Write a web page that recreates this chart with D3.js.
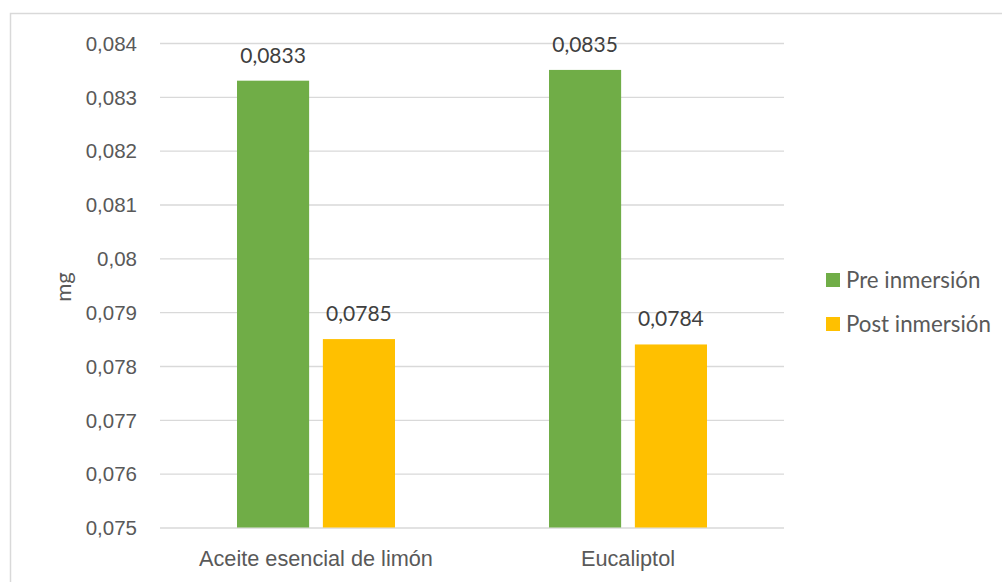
<!DOCTYPE html>
<html>
<head>
<meta charset="utf-8">
<script src="https://cdn.jsdelivr.net/npm/d3@7"></script>
<style>
  body { margin: 0; background: #fff; }
  svg { display: block; font-family: Lato, "Open Sans", sans-serif; }
</style>
</head>
<body>
<svg></svg>
<script>
// data
const CATEGORIES = ['Aceite esencial de limón', 'Eucaliptol'];
const SERIES = ['Pre inmersión', 'Post inmersión'];
const PRE = [0.0833, 0.0835];
const POST = [0.0785, 0.0784];
const Y_TICKS = [0.075, 0.076, 0.077, 0.078, 0.079, 0.08, 0.081, 0.082, 0.083, 0.084];
const COLORS = ['#70AD47', '#FFC000'];

const W = 1002, H = 582;
let SVG = d3.select('svg').attr('width', W).attr('height', H);

// chart border
SVG.append('rect')
  .attr('x', 10.5).attr('y', 13.5)
  .attr('width', W).attr('height', H)
  .attr('fill', 'none').attr('stroke', '#d9d9d9').attr('stroke-width', 1.5);

const plot = { left: 160, right: 784, top: 43, bottom: 527.5 };

let yScale = d3.scaleLinear()
  .domain([0.075, 0.084])
  .range([plot.bottom, plot.top]);

let xScale = d3.scaleBand()
  .domain(CATEGORIES)
  .range([plot.left, plot.right])
  .padding(0);

let subScale = d3.scaleBand()
  .domain(SERIES)
  .range([-79, 79])
  .paddingInner(0.16)
  .paddingOuter(0);

const fmt = v => String(v).replace('.', ',');

// gridlines + tick labels
let yAxis = d3.axisLeft(yScale)
  .tickValues(Y_TICKS)
  .tickSize(-(plot.right - plot.left))
  .tickPadding(23)
  .tickFormat(fmt);

let yAxisG = SVG.append('g').attr('transform', `translate(${plot.left},0)`);
yAxis(yAxisG);
yAxisG.select('.domain').remove();
yAxisG.selectAll('line').attr('stroke', '#d9d9d9').attr('stroke-width', 1.3);
yAxisG.selectAll('text')
  .attr('fill', '#595959')
  .style('font-size', '20.5px')
  .attr('dy', '0.35em');

// x labels
let xAxis = d3.axisBottom(xScale).tickSize(0).tickPadding(23);
let xAxisG = SVG.append('g').attr('transform', `translate(0,${plot.bottom})`);
xAxis(xAxisG);
xAxisG.select('.domain').remove();
xAxisG.selectAll('text').attr('fill', '#595959').style('font-size', '21.7px');

// bars
const rows = CATEGORIES.map((c, i) => ({ cat: c, vals: [PRE[i], POST[i]] }));

let groups = SVG.selectAll('.grp')
  .data(rows)
  .join('g')
  .attr('class', 'grp')
  .attr('transform', d => `translate(${xScale(d.cat) + xScale.bandwidth() / 2},0)`);

let cells = groups.selectAll('.cell')
  .data(d => d.vals.map((v, j) => ({ s: SERIES[j], v: v, j: j })))
  .join('g')
  .attr('class', 'cell');

cells.append('rect')
  .attr('x', d => subScale(d.s))
  .attr('y', d => yScale(d.v))
  .attr('width', subScale.bandwidth())
  .attr('height', d => plot.bottom - yScale(d.v))
  .attr('fill', d => COLORS[d.j]);

cells.append('text')
  .attr('x', d => subScale(d.s) + subScale.bandwidth() / 2)
  .attr('y', d => yScale(d.v) - 18)
  .attr('text-anchor', 'middle')
  .attr('fill', '#404040')
  .style('font-size', '21px')
  .text(d => fmt(d.v));

// y title
SVG.append('text')
  .attr('transform', 'translate(71,287) rotate(-90)')
  .attr('text-anchor', 'middle')
  .attr('fill', '#595959')
  .style('font-size', '22px')
  .text('mg');

// legend
let legend = SVG.selectAll('.leg')
  .data(SERIES)
  .join('g')
  .attr('class', 'leg')
  .attr('transform', (d, i) => `translate(826,${273 + i * 44})`);

legend.append('rect')
  .attr('width', 14).attr('height', 14)
  .attr('fill', (d, i) => COLORS[i]);

legend.append('text')
  .attr('x', 20).attr('y', 14.5)
  .attr('fill', '#595959')
  .style('font-size', '22.3px')
  .text(d => d);
</script>
</body>
</html>
